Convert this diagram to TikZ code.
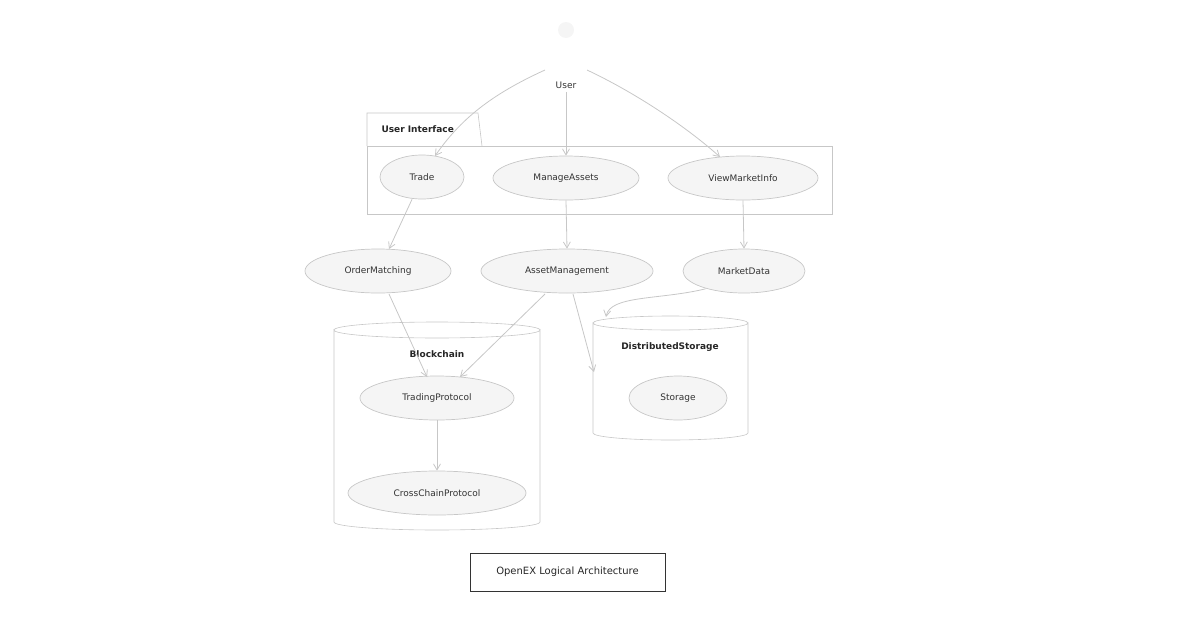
\documentclass[tikz,border=0pt]{standalone}
\usepackage{fontspec}
\setmainfont{DejaVu Sans}
\usetikzlibrary{shapes.geometric,arrows.meta}
\begin{document}
\begin{tikzpicture}[x=1pt,y=-1pt,
  uc/.style={ellipse,draw=black!22,fill=black!4,line width=0.7pt,inner sep=0pt,font=\fontsize{9}{11}\selectfont,text=black!80},
  ln/.style={draw=black!22,line width=0.8pt},
  ar/.style={ln,-{Straight Barb[length=6pt,width=7pt]}},
  lbl/.style={font=\bfseries\fontsize{9}{11}\selectfont,text=black!85}]
\useasboundingbox (0,0) rectangle (1200,627);
% actor
\fill[black!4] (566,30) circle (8);
\node[font=\fontsize{9}{11}\selectfont,text=black!80] (user) at (566,85) {User};
% UI package
\draw[ln,line width=0.6pt] (367,146) -- (367,113) -- (478,113) -- (482,146);
\draw[ln,line width=0.6pt] (367,146) rectangle (832,214);
\node[lbl,anchor=west] at (378,129) {User Interface};
% cylinders
\draw[ln,line width=0.6pt] (334,330) arc[x radius=103,y radius=8,start angle=180,end angle=0] -- (540,522) arc[x radius=103,y radius=8,start angle=0,end angle=180] -- cycle;
\draw[ln,line width=0.6pt] (334,330) arc[x radius=103,y radius=8,start angle=180,end angle=360];
\node[lbl] at (437,354) {Blockchain};
\draw[ln,line width=0.6pt] (593,323) arc[x radius=77.5,y radius=7,start angle=180,end angle=0] -- (748,433) arc[x radius=77.5,y radius=7,start angle=0,end angle=180] -- cycle;
\draw[ln,line width=0.6pt] (593,323) arc[x radius=77.5,y radius=7,start angle=180,end angle=360];
\node[lbl] at (670,347) {DistributedStorage};
\coordinate (ds) at (594,372);
\coordinate (dstop) at (606,317);
% use cases
\node[uc,minimum width=84,minimum height=44] (trade) at (422,177) {Trade};
\node[uc,minimum width=146,minimum height=44] (manage) at (566,178) {ManageAssets};
\node[uc,minimum width=150,minimum height=44] (view) at (743,178) {ViewMarketInfo};
\node[uc,minimum width=146,minimum height=44] (order) at (378,271) {OrderMatching};
\node[uc,minimum width=172,minimum height=44] (asset) at (567,271) {AssetManagement};
\node[uc,minimum width=122,minimum height=44] (market) at (744,271) {MarketData};
\node[uc,minimum width=154,minimum height=44] (tp) at (437,398) {TradingProtocol};
\node[uc,minimum width=178,minimum height=44] (cc) at (437,493) {CrossChainProtocol};
\node[uc,minimum width=98,minimum height=44] (st) at (678,398) {Storage};
% connectors
\coordinate (u1) at (545,70);
\coordinate (u2) at (587,70);
\coordinate (tradein) at (435,156);
\draw[ar] (u1) .. controls (490,95) and (460,120) .. (tradein);
\draw[ar] (user.south) -- (manage.north);
\draw[ar] (u2) .. controls (640,95) and (690,130) .. (720,157);
\draw[ar] (trade.south) ++(-10,0) -- (389,249);
\draw[ar] (manage.south) -- (asset.north);
\draw[ar] (view.south) -- (market.north);
\draw[ar] (389,294) -- (427,377);
\draw[ar] (545,294) -- (460,377);
\draw[ar] (573,294) -- (ds);
\draw[ar] (market.south west) ++(5,2) .. controls (660,300) and (610,295) .. (dstop);
\draw[ar] (tp.south) -- (cc.north);
% title
\node[draw=black!80,line width=0.6pt,minimum width=195,minimum height=38,font=\fontsize{10}{12}\selectfont,text=black!85] (title) at (567.5,572) {OpenEX Logical Architecture};
\end{tikzpicture}
\end{document}
